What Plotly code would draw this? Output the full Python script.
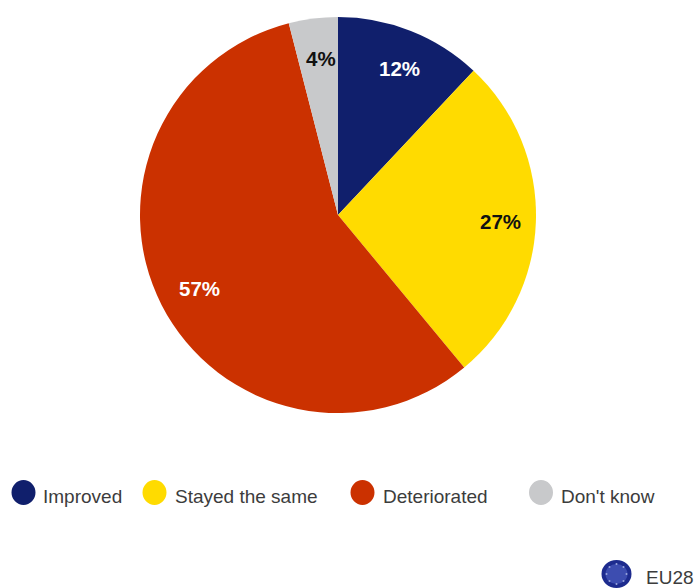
import plotly.graph_objects as go

W, H = 699, 588

categories = ["Improved", "Stayed the same", "Deteriorated", "Don't know"]
values = [12, 27, 57, 4]
colors = ["#101f6c", "#ffdb00", "#cb3100", "#c8c9cb"]
label_colors = ["#ffffff", "#111111", "#ffffff", "#111111"]

# Pixel placement helpers (origin top-left of the page)
label_pos = [(399.5, 68), (500, 221.5), (199, 288), (321, 58)]
legend_dot_x = [23.5, 154.5, 362.5, 541]
legend_text_x = [41, 173, 380.5, 559]
legend_y = 492.5
FONT = "Liberation Sans, Arial, sans-serif"


def px(x):
    return x / W


def py(y):
    return 1 - y / H


def disc(cx, cy, rx, ry, color):
    return dict(
        type="circle", xref="paper", yref="paper",
        x0=px(cx - rx), x1=px(cx + rx), y0=py(cy + ry), y1=py(cy - ry),
        fillcolor=color, line=dict(width=0),
    )


fig = go.Figure(
    go.Pie(
        labels=categories,
        values=values,
        sort=False,
        direction="clockwise",
        rotation=0,
        marker=dict(colors=colors, line=dict(width=0)),
        textinfo="none",
        hoverinfo="label+percent",
        showlegend=False,
        domain=dict(x=[px(140), px(536)], y=[py(413), py(17)]),
    )
)

annotations = []
for v, (x, y), c in zip(values, label_pos, label_colors):
    annotations.append(
        dict(
            text=f"<b>{v}%</b>", x=px(x), y=py(y), xref="paper", yref="paper",
            showarrow=False, xanchor="center", yanchor="middle",
            font=dict(family=FONT, size=20.5, color=c),
        )
    )

shapes = []
for name, c, dx, tx in zip(categories, colors, legend_dot_x, legend_text_x):
    shapes.append(disc(dx, legend_y, 12, 12.5, c))
    annotations.append(
        dict(
            text=name, x=px(tx), y=py(496), xref="paper", yref="paper",
            showarrow=False, xanchor="left", yanchor="middle",
            font=dict(family=FONT, size=19, color="#3c3c3c"),
        )
    )

# EU28 badge: blue disc, lighter towards the centre, with a ring of pale stars
shapes.append(disc(616.5, 574, 15, 14, "#1d2b8e"))
shapes.append(disc(616.5, 574, 11, 10, "#3d4db0"))
annotations.append(
    dict(
        text="EU28", x=px(644), y=py(577), xref="paper", yref="paper",
        showarrow=False, xanchor="left", yanchor="middle",
        font=dict(family=FONT, size=19, color="#3c3c3c"),
    )
)
star_offsets = [(0, -10), (7, -7), (10, 0), (7, 7), (0, 10), (-7, 7), (-10, 0), (-7, -7)]
for ox, oy in star_offsets:
    shapes.append(disc(616.5 + ox, 574 + oy, 1, 1, "#9aa6dc"))

fig.update_layout(
    width=W, height=H,
    margin=dict(l=0, r=0, t=0, b=0),
    paper_bgcolor="#ffffff",
    shapes=shapes,
    annotations=annotations,
)
fig.write_html("out.html")
